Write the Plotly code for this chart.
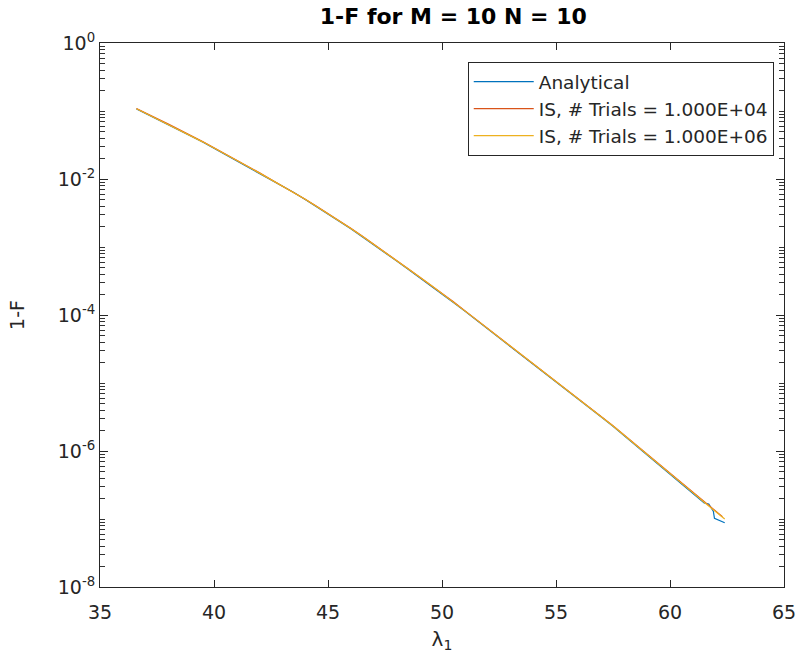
import plotly.graph_objects as go

# ---- data ----
lam_a = [36.6, 37.0, 37.5, 38.0, 38.5, 39.0, 39.5, 40.0, 40.5, 41.0, 41.5, 42.0, 42.5, 43.0,
         43.5, 44.0, 44.5, 45.0, 45.5, 46.0, 46.5, 47.0, 47.5, 48.0, 48.5, 49.0, 49.5, 50.0,
         50.5, 51.0, 51.5, 52.0, 52.5, 53.0, 53.5, 54.0, 54.5, 55.0, 55.5, 56.0, 56.5, 57.0,
         57.5, 58.0, 58.5, 59.0, 59.5, 60.0, 60.5, 61.0, 61.5, 61.7, 61.9, 61.95, 62.2, 62.4]
analytical = [1.07e-1, 9.20e-2, 7.62e-2, 6.35e-2, 5.22e-2, 4.25e-2, 3.50e-2, 2.83e-2, 2.31e-2,
              1.87e-2, 1.50e-2, 1.21e-2, 9.70e-3, 7.80e-3, 6.33e-3, 4.98e-3, 3.90e-3, 3.06e-3,
              2.38e-3, 1.85e-3, 1.42e-3, 1.09e-3, 8.25e-4, 6.25e-4, 4.75e-4, 3.60e-4, 2.72e-4,
              2.05e-4, 1.53e-4, 1.14e-4, 8.45e-5, 6.25e-5, 4.63e-5, 3.44e-5, 2.54e-5, 1.89e-5,
              1.39e-5, 1.03e-5, 7.88e-6, 5.78e-6, 4.23e-6, 3.13e-6, 2.30e-6, 1.66e-6, 1.21e-6,
              8.72e-7, 6.32e-7, 4.58e-7, 3.32e-7, 2.40e-7, 1.72e-7, 1.66e-7, 1.30e-7, 1.02e-7,
              9.4e-8, 8.8e-8]

lam_is4 = [36.6, 37.0, 37.5, 38.0, 38.5, 39.0, 39.5, 40.0, 40.5, 41.0, 41.5, 42.0, 42.5, 43.0,
           43.5, 44.0, 44.5, 45.0, 45.5, 46.0, 46.5, 47.0, 47.5, 48.0, 48.5, 49.0, 49.5, 50.0,
           50.5, 51.0, 51.5, 52.0, 52.5, 53.0, 53.5, 54.0, 54.5, 55.0, 55.5, 56.0, 56.5, 57.0,
           57.5, 58.0, 58.5, 59.0, 59.5, 60.0, 60.5, 61.0, 61.5, 62.0, 62.3]
is_1e4 = [1.09e-1, 9.30e-2, 7.75e-2, 6.45e-2, 5.32e-2, 4.30e-2, 3.55e-2, 2.88e-2, 2.34e-2,
          1.90e-2, 1.52e-2, 1.23e-2, 9.85e-3, 7.92e-3, 6.42e-3, 5.05e-3, 3.97e-3, 3.12e-3,
          2.42e-3, 1.88e-3, 1.45e-3, 1.11e-3, 8.40e-4, 6.38e-4, 4.83e-4, 3.66e-4, 2.78e-4,
          2.09e-4, 1.57e-4, 1.16e-4, 8.60e-5, 6.38e-5, 4.73e-5, 3.52e-5, 2.60e-5, 1.94e-5,
          1.42e-5, 1.06e-5, 8.05e-6, 5.90e-6, 4.33e-6, 3.20e-6, 2.36e-6, 1.71e-6, 1.24e-6,
          8.95e-7, 6.48e-7, 4.70e-7, 3.40e-7, 2.47e-7, 1.79e-7, 1.29e-7, 1.08e-7]

lam_is6 = [36.6, 37.0, 37.5, 38.0, 38.5, 39.0, 39.5, 40.0, 40.5, 41.0, 41.5, 42.0, 42.5, 43.0,
           43.5, 44.0, 44.5, 45.0, 45.5, 46.0, 46.5, 47.0, 47.5, 48.0, 48.5, 49.0, 49.5, 50.0,
           50.5, 51.0, 51.5, 52.0, 52.5, 53.0, 53.5, 54.0, 54.5, 55.0, 55.5, 56.0, 56.5, 57.0,
           57.5, 58.0, 58.5, 59.0, 59.5, 60.0, 60.5, 61.0, 61.5, 62.0, 62.4]
is_1e6 = [1.08e-1, 9.25e-2, 7.70e-2, 6.40e-2, 5.27e-2, 4.28e-2, 3.52e-2, 2.86e-2, 2.33e-2,
          1.89e-2, 1.51e-2, 1.22e-2, 9.80e-3, 7.88e-3, 6.40e-3, 5.03e-3, 3.95e-3, 3.10e-3,
          2.41e-3, 1.87e-3, 1.44e-3, 1.10e-3, 8.35e-4, 6.33e-4, 4.80e-4, 3.64e-4, 2.76e-4,
          2.08e-4, 1.56e-4, 1.15e-4, 8.55e-5, 6.33e-5, 4.70e-5, 3.48e-5, 2.58e-5, 1.92e-5,
          1.41e-5, 1.05e-5, 7.98e-6, 5.85e-6, 4.29e-6, 3.17e-6, 2.33e-6, 1.69e-6, 1.23e-6,
          8.85e-7, 6.40e-7, 4.64e-7, 3.36e-7, 2.44e-7, 1.76e-7, 1.27e-7, 1.00e-7]

series_names = ["Analytical", "IS, # Trials = 1.000E+04", "IS, # Trials = 1.000E+06"]
x_ticks = [35, 40, 45, 50, 55, 60, 65]
y_ticks = [1e-8, 1e-6, 1e-4, 1e-2, 1e0]
y_ticktext = ["10<sup>-8</sup>", "10<sup>-6</sup>", "10<sup>-4</sup>", "10<sup>-2</sup>", "10<sup>0</sup>"]

# ---- figure ----
colors = ["#0072BD", "#D95319", "#EDB120"]
AX = "#262626"
FONT = "DejaVu Sans"

minor_vals = [m * 10.0 ** e for e in range(-8, 0) for m in range(1, 10)
              if not (m == 1 and e % 2 == 0)]

fig = go.Figure()
for xs, ys, name, c in zip([lam_a, lam_is4, lam_is6], [analytical, is_1e4, is_1e6], series_names, colors):
    fig.add_trace(go.Scatter(x=xs, y=ys, mode="lines", name=name,
                             line=dict(color=c, width=1.2)))

fig.update_layout(
    width=808, height=660,
    margin=dict(l=100, r=15, t=43, b=73),
    paper_bgcolor="white", plot_bgcolor="white",
    font=dict(family=FONT, size=19, color=AX),
    title=dict(text="<b>1-F for M = 10 N = 10</b>", x=0.561, xanchor="center",
               y=0.975, yanchor="middle", font=dict(family=FONT, size=22, color="black")),
    showlegend=True,
    legend=dict(x=0.985, xanchor="right", y=0.965, yanchor="top",
                bgcolor="white", bordercolor=AX, borderwidth=1,
                font=dict(family=FONT, size=18.5, color=AX),
                tracegroupgap=0, itemwidth=60),
)
fig.update_xaxes(range=[35, 65], tickvals=x_ticks, ticks="inside", ticklen=7, tickwidth=1,
                 tickcolor=AX, showline=True, linecolor=AX, mirror="ticks",
                 showgrid=False, tickfont=dict(size=19, color=AX), ticklabelstandoff=8,
                 title=dict(text="λ<sub>1</sub>", font=dict(size=20, color=AX), standoff=10))
fig.update_yaxes(type="log", range=[-8, 0], tickvals=y_ticks, ticktext=y_ticktext,
                 ticks="inside", ticklen=8, tickcolor=AX,
                 minor=dict(ticks="inside", ticklen=5, tickwidth=1.3, tickcolor="#333333",
                            tickvals=minor_vals),
                 showline=True, linecolor=AX, mirror="ticks", showgrid=False,
                 tickfont=dict(size=19, color=AX),
                 title=dict(text="1-F", font=dict(size=19, color=AX), standoff=28))

fig.write_html("out.html")
